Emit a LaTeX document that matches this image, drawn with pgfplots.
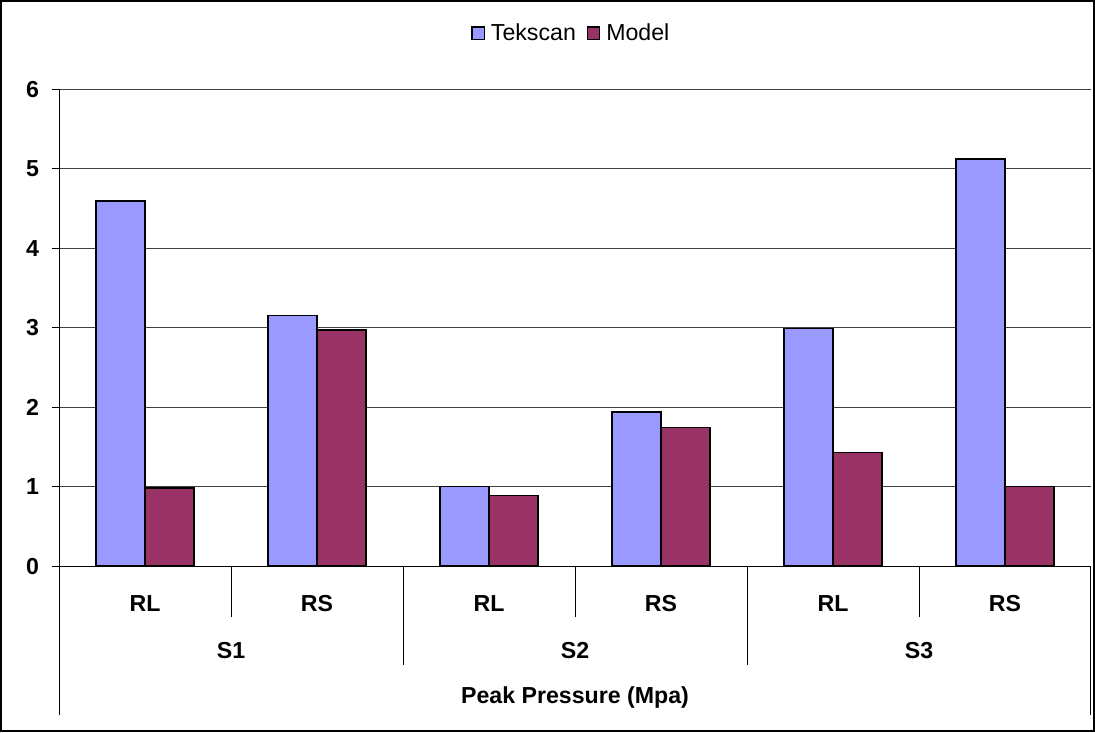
\documentclass[border=0pt]{standalone}
\usepackage{pgfplots}
\pgfplotsset{compat=1.18}
\usepackage{fontspec}
\setmainfont{Liberation Sans}
\definecolor{tek}{HTML}{9999FF}
\definecolor{mod}{HTML}{993366}
\newcommand{\lf}{\fontsize{11.6}{13.5}\selectfont\bfseries}
\begin{document}
\begin{tikzpicture}
\begin{axis}[
  at={(0,0)}, anchor=south west,
  scale only axis, width=515bp, height=238bp,
  xmin=-0.5, xmax=5.5, ymin=0, ymax=6,
  ybar=0pt, bar width=0.285,
  axis x line=bottom, axis y line=left,
  axis line style={-, black, line width=0.5bp},
  xtick=\empty,
  ytick={0,1,2,3,4,5,6},
  ymajorgrids, grid style={black!75, line width=0.5bp},
  tick align=outside, major tick length=3.5bp,
  tick style={black, line width=0.5bp},
  yticklabel style={font=\lf, xshift=-3bp},
  /pgf/number format/assume math mode=true,
  clip=false,
  legend style={at={(axis description cs:0.497,1.117)}, anchor=center, draw=none,
    legend columns=2, font=\fontsize{11.6}{13.5}\selectfont,
    /tikz/every odd column/.append style={column sep=1.5bp},
    /tikz/every even column/.append style={column sep=4bp},
    nodes={inner sep=1.5bp}},
]
\addplot[fill=tek, draw=black, line width=0.75bp,
  legend image code/.code={\draw[fill=tek, draw=black, line width=0.7bp] (0bp,-3.2bp) rectangle (6bp,3.2bp);}]
  coordinates {(0,4.59) (1,3.15) (2,1.0) (3,1.94) (4,2.99) (5,5.12)};
\addplot[fill=mod, draw=black, line width=0.75bp,
  legend image code/.code={\draw[fill=mod, draw=black, line width=0.7bp] (0bp,-3.2bp) rectangle (6bp,3.2bp);}]
  coordinates {(0,0.98) (1,2.97) (2,0.89) (3,1.74) (4,1.43) (5,1.0)};
\legend{Tekscan, Model}
% separators
\draw[black, line width=0.5bp] (axis cs:0.5,0) -- ++(0bp,-25.5bp);
\draw[black, line width=0.5bp] (axis cs:2.5,0) -- ++(0bp,-25.5bp);
\draw[black, line width=0.5bp] (axis cs:4.5,0) -- ++(0bp,-25.5bp);
\draw[black, line width=0.5bp] (axis cs:1.5,0) -- ++(0bp,-49.5bp);
\draw[black, line width=0.5bp] (axis cs:3.5,0) -- ++(0bp,-49.5bp);
\draw[black, line width=0.5bp] (axis cs:-0.5,0) -- ++(0bp,-74.5bp);
\draw[black, line width=0.5bp] (axis cs:5.5,0) -- ++(0bp,-74.5bp);
% labels
\node[font=\lf] at ([yshift=-18.5bp]axis cs:0,0) {RL};
\node[font=\lf] at ([yshift=-18.5bp]axis cs:1,0) {RS};
\node[font=\lf] at ([yshift=-18.5bp]axis cs:2,0) {RL};
\node[font=\lf] at ([yshift=-18.5bp]axis cs:3,0) {RS};
\node[font=\lf] at ([yshift=-18.5bp]axis cs:4,0) {RL};
\node[font=\lf] at ([yshift=-18.5bp]axis cs:5,0) {RS};
\node[font=\lf] at ([yshift=-42bp]axis cs:0.5,0) {S1};
\node[font=\lf] at ([yshift=-42bp]axis cs:2.5,0) {S2};
\node[font=\lf] at ([yshift=-42bp]axis cs:4.5,0) {S3};
\node[font=\lf] at ([yshift=-65.5bp]axis cs:2.5,0) {Peak Pressure (Mpa)};
\end{axis}
\draw[black, line width=1bp] (-29bp,-82.5bp) rectangle (516.5bp,282bp);
\end{tikzpicture}
\end{document}
